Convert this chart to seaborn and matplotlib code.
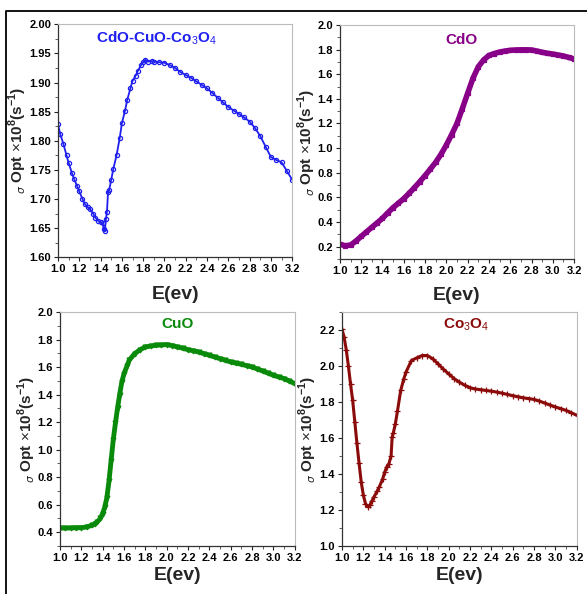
import matplotlib
matplotlib.use("Agg")
import matplotlib.pyplot as plt
from matplotlib.lines import Line2D
from matplotlib.ticker import MultipleLocator
import seaborn as sns
import pandas as pd

# ---------------- data ----------------
x_mix = [1.00,1.02,1.05,1.08,1.10,1.13,1.15,1.18,1.20,1.23,1.25,1.28,1.30,1.33,1.35,1.38,1.40,1.42,1.43,1.44,
         1.45,1.46,1.47,1.48,1.50,1.52,1.55,1.58,1.60,1.63,1.65,1.68,1.70,1.73,1.75,1.78,1.80,1.82,1.85,1.88,
         1.90,1.95,2.00,2.05,2.10,2.15,2.20,2.25,2.30,2.35,2.40,2.45,2.50,2.55,2.60,2.65,2.70,2.75,2.80,2.85,
         2.90,2.95,3.00,3.05,3.10,3.15,3.20]
y_mix = [1.829,1.812,1.795,1.775,1.762,1.745,1.735,1.722,1.713,1.700,1.692,1.686,1.683,1.675,1.668,1.662,1.660,1.658,1.648,1.645,
         1.665,1.678,1.712,1.715,1.733,1.752,1.775,1.805,1.830,1.852,1.870,1.890,1.903,1.912,1.920,1.930,1.935,1.939,1.936,1.937,
         1.936,1.935,1.934,1.930,1.925,1.918,1.913,1.908,1.902,1.896,1.890,1.882,1.874,1.866,1.858,1.852,1.846,1.840,1.833,1.822,
         1.808,1.790,1.772,1.767,1.763,1.748,1.733]

x_cdo = [1.00,1.05,1.10,1.15,1.20,1.25,1.30,1.35,1.40,1.45,1.50,1.55,1.60,1.65,1.70,1.75,1.80,1.85,1.90,1.95,
         2.00,2.05,2.10,2.15,2.20,2.25,2.30,2.35,2.40,2.45,2.50,2.55,2.60,2.65,2.70,2.75,2.80,2.85,2.90,2.95,
         3.00,3.05,3.10,3.15,3.20]
y_cdo = [0.219,0.208,0.213,0.245,0.283,0.320,0.357,0.393,0.430,0.475,0.517,0.553,0.590,0.633,0.679,0.727,0.777,0.830,0.885,0.950,
         1.025,1.110,1.200,1.320,1.445,1.567,1.660,1.716,1.752,1.768,1.780,1.788,1.794,1.797,1.798,1.798,1.797,1.788,1.778,1.770,
         1.764,1.756,1.748,1.736,1.724]

x_cuo = [1.00,1.05,1.10,1.15,1.20,1.25,1.30,1.33,1.35,1.38,1.40,1.42,1.44,1.46,1.48,1.50,1.52,1.54,1.56,1.58,
         1.60,1.63,1.65,1.70,1.75,1.80,1.85,1.90,1.95,2.00,2.05,2.10,2.15,2.20,2.25,2.30,2.35,2.40,2.45,2.50,
         2.55,2.60,2.65,2.70,2.75,2.80,2.85,2.90,2.95,3.00,3.05,3.10,3.15,3.20]
y_cuo = [0.431,0.430,0.431,0.432,0.433,0.438,0.450,0.462,0.475,0.500,0.535,0.580,0.650,0.770,0.920,1.070,1.190,1.300,1.400,1.490,
         1.550,1.610,1.650,1.697,1.725,1.746,1.752,1.758,1.760,1.763,1.756,1.746,1.737,1.726,1.718,1.709,1.697,1.685,1.673,1.661,
         1.649,1.637,1.628,1.620,1.610,1.600,1.586,1.571,1.556,1.540,1.528,1.516,1.498,1.480]

x_co = [1.00,1.02,1.04,1.06,1.08,1.10,1.12,1.14,1.16,1.18,1.20,1.22,1.24,1.26,1.28,1.30,1.33,1.35,1.38,1.40,
        1.42,1.44,1.46,1.47,1.48,1.50,1.52,1.55,1.58,1.60,1.65,1.70,1.75,1.80,1.85,1.90,1.95,2.00,2.05,2.10,
        2.15,2.20,2.25,2.30,2.35,2.40,2.45,2.50,2.55,2.60,2.65,2.70,2.75,2.80,2.85,2.90,2.95,3.00,3.05,3.10,
        3.15,3.20]
y_co = [2.205,2.160,2.090,2.000,1.900,1.810,1.690,1.570,1.460,1.356,1.283,1.236,1.218,1.225,1.250,1.273,1.305,1.329,1.370,1.410,
        1.440,1.458,1.500,1.605,1.625,1.679,1.750,1.864,1.930,1.966,2.030,2.045,2.058,2.058,2.040,2.012,1.982,1.956,1.930,1.910,
        1.893,1.879,1.872,1.868,1.864,1.860,1.855,1.849,1.842,1.835,1.829,1.823,1.819,1.814,1.805,1.794,1.783,1.772,1.763,1.753,
        1.740,1.726]

titles = ["CdO-CuO-Co$_3$O$_4$", "CdO", "CuO", "Co$_3$O$_4$"]
x_ticks = [1.0, 1.2, 1.4, 1.6, 1.8, 2.0, 2.2, 2.4, 2.6, 2.8, 3.0, 3.2]
xlabel = "E(ev)"
ylabel = r"$_{\sigma}$ Opt $\times$10$^{\mathbf{8}}$(s$^{\mathbf{-1}}$)"

# ---------------- styling ----------------
sns.set_style("ticks")
plt.rcParams['font.family'] = ['Liberation Sans', 'DejaVu Sans']
plt.rcParams['mathtext.fontset'] = 'custom'
plt.rcParams['mathtext.rm'] = 'Liberation Sans'
plt.rcParams['mathtext.bf'] = 'Liberation Sans:bold'

fig = plt.figure(figsize=(5.87, 5.94), dpi=100)

panels = [
    dict(x=x_mix, y=y_mix, color="#1f1fef", marker="o", mfc="none", ms=3.0, lw=1.3, ylim=(1.60, 2.00),
         ymaj=0.05, ymin=0.025, yfmt="{:.2f}", pos=[0.0988, 0.567, 0.399, 0.392],
         title_xy=(0.42, 0.94), ylab_x=-0.125, xlab_y=-0.125),
    dict(x=x_cdo, y=y_cdo, color="#880088", marker="s", mfc=None, ms=3.5, lw=4.0, ylim=(0.1, 2.0),
         ymaj=0.2, ymin=0.1, yfmt="{:.1f}", pos=[0.579, 0.564, 0.399, 0.394],
         title_xy=(0.52, 0.936), ylab_x=-0.095, xlab_y=-0.12),
    dict(x=x_cuo, y=y_cuo, color="#0a8a0a", marker="v", mfc=None, ms=3.5, lw=3.5, ylim=(0.3, 2.0),
         ymaj=0.2, ymin=0.1, yfmt="{:.1f}", pos=[0.102, 0.0808, 0.400, 0.394],
         title_xy=(0.50, 0.95), ylab_x=-0.095, xlab_y=-0.09),
    dict(x=x_co, y=y_co, color="#8b0a0a", marker="+", mfc=None, ms=4.5, lw=2.2, ylim=(1.0, 2.3),
         ymaj=0.2, ymin=0.1, yfmt="{:.1f}", pos=[0.5826, 0.0808, 0.400, 0.394],
         title_xy=(0.53, 0.944), ylab_x=-0.1, xlab_y=-0.09),
]

for p, title in zip(panels, titles):
    ax = fig.add_axes(p["pos"])
    df = pd.DataFrame({"E": p["x"], "sigma": p["y"]})
    kw = dict(marker=p["marker"], markersize=p["ms"], markeredgecolor=p["color"], markeredgewidth=0.9)
    if p["mfc"] == "none":
        kw["markerfacecolor"] = "none"
    else:
        kw["markerfacecolor"] = p["color"]
    sns.lineplot(data=df, x="E", y="sigma", ax=ax, color=p["color"], linewidth=p["lw"], sort=False, **kw)
    ax.set_xlim(1.0, 3.2)
    ax.set_ylim(*p["ylim"])
    ax.set_xticks(x_ticks)
    ax.set_xticklabels([f"{t:.1f}" for t in x_ticks])
    ax.xaxis.set_minor_locator(MultipleLocator(0.1))
    ax.yaxis.set_major_locator(MultipleLocator(p["ymaj"]))
    ax.yaxis.set_minor_locator(MultipleLocator(p["ymin"]))
    yt = [t for t in ax.get_yticks() if p["ylim"][0] - 1e-9 <= t <= p["ylim"][1] + 1e-9]
    ax.set_yticks(yt)
    ax.set_yticklabels([p["yfmt"].format(t) for t in yt])
    ax.tick_params(axis="both", which="major", direction="out", length=3, width=0.8,
                   labelsize=8, pad=2, colors="#222222")
    ax.tick_params(axis="both", which="minor", direction="out", length=2, width=0.6, colors="#444444")
    for lab in ax.get_xticklabels() + ax.get_yticklabels():
        lab.set_fontweight("bold")
        lab.set_color("black")
    for s in ["left", "bottom"]:
        ax.spines[s].set_color("#333333")
        ax.spines[s].set_linewidth(0.9)
    for s in ["top", "right"]:
        ax.spines[s].set_visible(True)
        ax.spines[s].set_color("#bbbbbb")
        ax.spines[s].set_linewidth(0.8)
    ax.set_xlabel(xlabel, fontsize=14, fontweight="bold")
    ax.xaxis.set_label_coords(0.5, p["xlab_y"])
    ax.set_ylabel(ylabel, fontsize=11, fontweight="bold")
    ax.yaxis.set_label_coords(p["ylab_x"], 0.5)
    ax.text(p["title_xy"][0], p["title_xy"][1], title, transform=ax.transAxes, ha="center", va="center",
            fontsize=11, fontweight="bold", color=p["color"])

# outer frame (left and top edges)
fig.add_artist(Line2D([6/587, 6/587, 1.0], [0.0, 1 - 11/594, 1 - 11/594],
                      transform=fig.transFigure, color="black", linewidth=1.3))

fig.savefig("out.png", dpi=100)
